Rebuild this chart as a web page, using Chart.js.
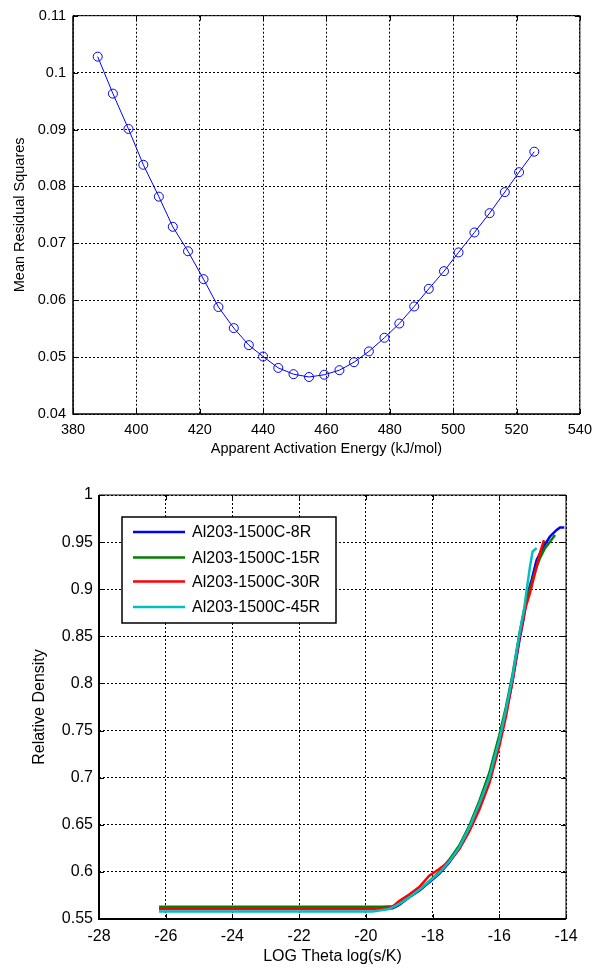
<!DOCTYPE html>
<html>
<head>
<meta charset="utf-8">
<script src="https://cdn.jsdelivr.net/npm/chart.js@4.4.1/dist/chart.umd.min.js"></script>
<style>
html,body{margin:0;padding:0;background:#fff;}
canvas{position:absolute;left:0;}
#c1{top:0;width:599px;height:470px;}
#c2{top:470px;width:599px;height:500px;}
</style>
</head>
<body>
<canvas id="c1" width="599" height="470"></canvas>
<canvas id="c2" width="599" height="500"></canvas>
<script>
// ---------- Top chart data ----------
const activationEnergy = [387.8, 392.6, 397.5, 402.2, 407.1, 411.5, 416.3, 421.2, 425.9, 430.75,
  435.5, 440.0, 444.8, 449.6, 454.5, 459.3, 464.1, 468.7, 473.4, 478.3,
  483.0, 487.7, 492.3, 497.1, 501.7, 506.7, 511.5, 516.3, 520.8, 525.6];
const meanResidualSquares = [0.1028, 0.0963, 0.0901, 0.0838, 0.0782, 0.0729, 0.0686, 0.0637, 0.0588, 0.0551,
  0.0521, 0.0501, 0.0481, 0.0470, 0.0465, 0.0469, 0.0477, 0.0491, 0.0510, 0.0534,
  0.0559, 0.0589, 0.0620, 0.0651, 0.0684, 0.0719, 0.0753, 0.0790, 0.0825, 0.0861];
const energyTicks = [380, 400, 420, 440, 460, 480, 500, 520, 540];
const energyTickLabels = ['380', '400', '420', '440', '460', '480', '500', '520', '540'];
const mrsTicks = [0.04, 0.05, 0.06, 0.07, 0.08, 0.09, 0.1, 0.11];
const mrsTickLabels = ['0.04', '0.05', '0.06', '0.07', '0.08', '0.09', '0.1', '0.11'];

// ---------- Bottom chart data ----------
const seriesNames = ['Al203-1500C-8R', 'Al203-1500C-15R', 'Al203-1500C-30R', 'Al203-1500C-45R'];
const seriesColors = ['#0000ff', '#008000', '#ff0000', '#00bfbf'];
const theta8R   = [-26.2, -19.5, -19.2, -19.0, -18.7, -18.4, -18.1, -17.8, -17.5, -17.2, -16.9, -16.6, -16.3, -16.0, -15.8, -15.6, -15.4, -15.28, -15.18, -15.03, -14.88, -14.68, -14.48, -14.28, -14.18, -14.05];
const density8R = [0.5605, 0.5605, 0.5615, 0.565, 0.573, 0.580, 0.589, 0.598, 0.610, 0.625, 0.645, 0.670, 0.698, 0.738, 0.768, 0.803, 0.845, 0.867, 0.892, 0.910, 0.931, 0.945, 0.956, 0.963, 0.9655, 0.9655];
const theta15R   = [-26.2, -19.5, -19.2, -19.0, -18.7, -18.4, -18.1, -17.8, -17.5, -17.2, -16.9, -16.6, -16.3, -16.0, -15.8, -15.6, -15.4, -15.2, -15.03, -14.93, -14.78, -14.63, -14.48, -14.33];
const density15R = [0.563, 0.563, 0.5635, 0.566, 0.573, 0.581, 0.590, 0.600, 0.613, 0.628, 0.649, 0.675, 0.705, 0.745, 0.775, 0.810, 0.852, 0.888, 0.906, 0.919, 0.933, 0.9435, 0.9505, 0.9576];
const theta30R   = [-26.2, -19.5, -19.2, -19.0, -18.7, -18.4, -18.1, -17.8, -17.5, -17.2, -16.9, -16.6, -16.3, -16.0, -15.8, -15.6, -15.4, -15.2, -15.08, -14.98, -14.88, -14.78, -14.66];
const density30R = [0.561, 0.561, 0.563, 0.569, 0.576, 0.584, 0.596, 0.603, 0.611, 0.624, 0.643, 0.666, 0.694, 0.733, 0.765, 0.803, 0.848, 0.882, 0.896, 0.910, 0.924, 0.9385, 0.952];
const theta45R   = [-26.2, -19.8, -19.6, -19.3, -19.0, -18.7, -18.4, -18.1, -17.8, -17.5, -17.2, -16.9, -16.6, -16.3, -16.0, -15.8, -15.6, -15.4, -15.25, -15.18, -15.08, -15.0, -14.88];
const density45R = [0.558, 0.558, 0.559, 0.5605, 0.566, 0.573, 0.581, 0.590, 0.599, 0.611, 0.626, 0.647, 0.672, 0.700, 0.740, 0.772, 0.808, 0.852, 0.880, 0.899, 0.924, 0.940, 0.9436];
const thetaTicks = [-28, -26, -24, -22, -20, -18, -16, -14];
const thetaTickLabels = ['-28', '-26', '-24', '-22', '-20', '-18', '-16', '-14'];
const densityTicks = [0.55, 0.6, 0.65, 0.7, 0.75, 0.8, 0.85, 0.9, 0.95, 1];
const densityTickLabels = ['0.55', '0.6', '0.65', '0.7', '0.75', '0.8', '0.85', '0.9', '0.95', '1'];

const FF = '"Liberation Sans", Arial, Helvetica, sans-serif';
const zip = (xs, ys) => xs.map((x, i) => ({x: x, y: ys[i]}));

const framePlugin = {
  id: 'frame',
  afterDatasetsDraw(chart, args, opts) {
    const {ctx, chartArea: a, scales} = chart;
    const tl = opts.tickLen;
    ctx.save();
    ctx.strokeStyle = '#000';
    ctx.setLineDash([]);
    ctx.lineWidth = 1;
    ctx.beginPath();
    scales.x.ticks.forEach(t => {
      const px = Math.round(scales.x.getPixelForValue(t.value)) + 0.5;
      ctx.moveTo(px, a.bottom); ctx.lineTo(px, a.bottom - tl);
      ctx.moveTo(px, a.top); ctx.lineTo(px, a.top + tl);
    });
    scales.y.ticks.forEach(t => {
      const py = Math.round(scales.y.getPixelForValue(t.value)) + 0.5;
      ctx.moveTo(a.left, py); ctx.lineTo(a.left + tl, py);
      ctx.moveTo(a.right, py); ctx.lineTo(a.right - tl, py);
    });
    ctx.stroke();
    ctx.lineWidth = opts.thin;
    ctx.beginPath();
    ctx.moveTo(a.left, a.top); ctx.lineTo(a.right, a.top); ctx.lineTo(a.right, a.bottom);
    ctx.stroke();
    ctx.lineWidth = opts.thick;
    ctx.beginPath();
    ctx.moveTo(a.left, a.top); ctx.lineTo(a.left, a.bottom); ctx.lineTo(a.right, a.bottom);
    ctx.stroke();
    ctx.restore();
  }
};

const legendPlugin = {
  id: 'boxLegend',
  afterDatasetsDraw(chart, args, opts) {
    if (!opts.show) return;
    const {ctx, chartArea: a} = chart;
    const bx = a.left + 23, by = a.top + 22, bw = 214, bh = 106;
    const rows = [15, 40.5, 64.5, 90];
    ctx.save();
    ctx.fillStyle = '#fff';
    ctx.fillRect(bx, by, bw, bh);
    ctx.strokeStyle = '#000';
    ctx.lineWidth = 1.5;
    ctx.strokeRect(bx, by, bw, bh);
    ctx.font = '16px ' + FF;
    ctx.textBaseline = 'middle';
    ctx.textAlign = 'left';
    seriesNames.forEach((name, i) => {
      const y = by + rows[i];
      ctx.strokeStyle = seriesColors[i];
      ctx.lineWidth = 2.5;
      ctx.beginPath();
      ctx.moveTo(bx + 11, y); ctx.lineTo(bx + 63, y);
      ctx.stroke();
      ctx.fillStyle = '#000';
      ctx.fillText(name, bx + 70, y + 1);
    });
    ctx.restore();
  }
};

function axis(opts) {
  return {
    type: 'linear',
    min: opts.min, max: opts.max,
    afterBuildTicks: s => { s.ticks = opts.ticks.map(v => ({value: v})); },
    ticks: {
      callback: (v, i) => opts.labels[i],
      font: {family: FF, size: opts.fs},
      color: '#000', padding: opts.tp, maxRotation: 0, autoSkip: false
    },
    grid: {color: '#000', lineWidth: 1, drawTicks: false},
    border: {display: false, dash: [2, 2]},
    title: {display: true, text: opts.title, font: {family: FF, size: opts.fs}, color: '#000', padding: opts.titlePad},
    afterFit: opts.fit
  };
}

new Chart(document.getElementById('c1'), {
  type: 'scatter',
  data: {
    datasets: [{
      data: zip(activationEnergy, meanResidualSquares),
      showLine: true,
      borderColor: '#0000ff',
      borderWidth: 1,
      backgroundColor: 'rgba(0,0,0,0)',
      pointRadius: 4.5,
      pointBorderWidth: 1,
      pointBorderColor: '#0000ff',
      pointBackgroundColor: 'rgba(0,0,0,0)',
      tension: 0
    }]
  },
  options: {
    responsive: false, animation: false, devicePixelRatio: 1,
    layout: {padding: {left: 0, right: 12.5, top: 9.3, bottom: 0}},
    plugins: {legend: {display: false}, tooltip: {enabled: false},
      frame: {tickLen: 5, thin: 1, thick: 1.5}, boxLegend: {show: false}},
    scales: {
      x: axis({min: 380, max: 540, ticks: energyTicks, labels: energyTickLabels, fs: 14.5, tp: 7,
        title: 'Apparent Activation Energy (kJ/mol)', titlePad: {top: 0, bottom: 12},
        fit: s => { s.height = 56; }}),
      y: axis({min: 0.04, max: 0.11, ticks: mrsTicks, labels: mrsTickLabels, fs: 14.5, tp: 7,
        title: 'Mean Residual Squares', titlePad: {top: 11, bottom: 0},
        fit: s => { s.width = 73; }})
    }
  },
  plugins: [framePlugin, legendPlugin]
});

const thetaSets = [theta8R, theta15R, theta30R, theta45R];
const densitySets = [density8R, density15R, density30R, density45R];

new Chart(document.getElementById('c2'), {
  type: 'scatter',
  data: {
    datasets: seriesNames.map((name, i) => ({
      label: name,
      data: zip(thetaSets[i], densitySets[i]),
      showLine: true,
      borderColor: seriesColors[i],
      backgroundColor: seriesColors[i],
      borderWidth: 2.5,
      pointRadius: 0,
      tension: 0,
      order: 3 - i
    }))
  },
  options: {
    responsive: false, animation: false, devicePixelRatio: 1,
    layout: {padding: {left: 0, right: 33, top: 25, bottom: 0}},
    plugins: {legend: {display: false}, tooltip: {enabled: false},
      frame: {tickLen: 5, thin: 1, thick: 2}, boxLegend: {show: true}},
    scales: {
      x: axis({min: -28, max: -14, ticks: thetaTicks, labels: thetaTickLabels, fs: 16, tp: 8,
        title: 'LOG Theta log(s/K)', titlePad: {top: 0, bottom: 3.5},
        fit: s => { s.height = 51; }}),
      y: axis({min: 0.55, max: 1, ticks: densityTicks, labels: densityTickLabels, fs: 16, tp: 6,
        title: 'Relative Density', titlePad: {top: 29.5, bottom: 0},
        fit: s => { s.width = 99; }})
    }
  },
  plugins: [framePlugin, legendPlugin]
});
</script>
</body>
</html>
